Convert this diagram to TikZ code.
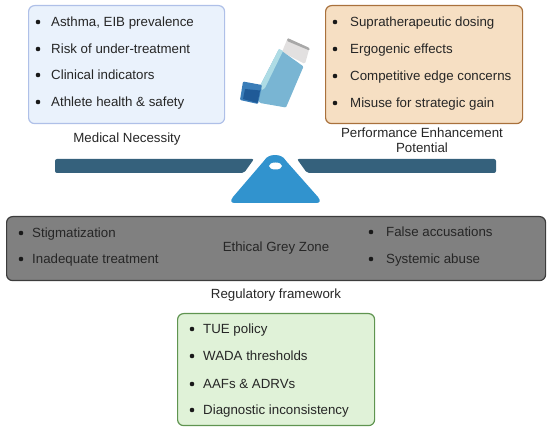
\documentclass[tikz,border=0pt]{standalone}
\usepackage{fontspec}
\setmainfont{Liberation Sans}
\definecolor{bluefill}{HTML}{EAF2FC}
\definecolor{blueline}{HTML}{AFC0E8}
\definecolor{tanfill}{HTML}{F6DFC3}
\definecolor{tanline}{HTML}{A9713C}
\definecolor{grayfill}{HTML}{808080}
\definecolor{grayline}{HTML}{3C3C3C}
\definecolor{greenfill}{HTML}{E0F2D8}
\definecolor{greenline}{HTML}{5F9450}
\definecolor{beam}{HTML}{35617C}
\definecolor{fulcrum}{HTML}{3193CE}
\definecolor{txt}{HTML}{262626}
\definecolor{inhbody}{HTML}{79B5D3}
\definecolor{inhlight}{HTML}{AEDCE5}
\definecolor{inhmouth}{HTML}{3A7DB8}
\definecolor{inhdark}{HTML}{1F5A97}
\definecolor{inhcap}{HTML}{E2E0E0}
\definecolor{inhcaptop}{HTML}{A8A8A8}
\tikzset{
  panel/.style={draw,rounded corners=6pt,line width=1.2pt,anchor=north west,inner sep=0pt},
  lab/.style={font=\fontsize{13.3}{15}\selectfont,text=txt,inner sep=0pt},
  item/.style={lab,anchor=base west},
  dot/.style={circle,fill=black!90,inner sep=0pt,minimum size=4.6pt},
}
\newcommand{\bul}[5]{% name, bullet x, text x, y, text
  \node[dot] (#1d) at (#2,#4) {};
  \node[item] (#1) at (#3,#4+4.5) {#5};
}
\begin{document}
\begin{tikzpicture}[x=1pt,y=-1pt]
\useasboundingbox (0,0) rectangle (550,430);
\node[panel,fill=bluefill,draw=blueline,minimum width=196pt,minimum height=118pt] (med) at (28,5) {};
\node[panel,fill=tanfill,draw=tanline,minimum width=197pt,minimum height=118pt] (perf) at (325,5) {};
\node[panel,fill=grayfill,draw=grayline,minimum width=539pt,minimum height=64pt] (grey) at (6,216) {};
\node[panel,fill=greenfill,draw=greenline,minimum width=197pt,minimum height=112pt] (green) at (177,313) {};
\bul{a1}{38}{51}{22}{Asthma, EIB prevalence}
\bul{a2}{38}{51}{49}{Risk of under-treatment}
\bul{a3}{38}{51}{75}{Clinical indicators}
\bul{a4}{38}{51}{102}{Athlete health \& safety}
\bul{b1}{335}{350}{22}{Supratherapeutic dosing}
\bul{b2}{335}{350}{49}{Ergogenic effects}
\bul{b3}{335}{350}{76}{Competitive edge concerns}
\bul{b4}{335}{350}{103}{Misuse for strategic gain}
\bul{c1}{21}{32}{233}{Stigmatization}
\bul{c2}{21}{32}{259}{Inadequate treatment}
\bul{d1}{371}{386}{232}{False accusations}
\bul{d2}{371}{386}{259}{Systemic abuse}
\bul{e1}{192}{203}{329}{TUE policy}
\bul{e2}{192}{203}{356}{WADA thresholds}
\bul{e3}{192}{203}{384}{AAFs \& ADRVs}
\bul{e4}{192}{203}{410}{Diagnostic inconsistency}
\node[lab] (medt) at (127,139) {Medical Necessity};
\node[lab,align=center] (perft) at (422,140.5) {Performance Enhancement\\[0pt]Potential};
\node[lab] (greyt) at (276,248) {Ethical Grey Zone};
\node[lab] (regt) at (276,295) {Regulatory framework};
% balance
\fill[beam,rounded corners=2pt] (55,159) -- (254,159) -- (244,173) -- (55,173) -- cycle;
\fill[beam,rounded corners=2pt] (297,159) -- (496,159) -- (496,173) -- (307,173) -- cycle;
\fill[fulcrum] (271,155.5) .. controls (273,155) and (277,155) .. (279,155.5)
  .. controls (283,156.5) and (285,159) .. (287,162) -- (318,197)
  .. controls (321,201) and (320,203) .. (316,203) -- (235,203)
  .. controls (231,203) and (230,201) .. (233,197) -- (263,162)
  .. controls (265,159) and (267,156.5) .. (271,155.5) -- cycle;
\fill[white] (275.5,166) ellipse (6.5pt and 3.5pt);
% inhaler
\fill[inhcap,rounded corners=1.5pt] (287.5,38.5) -- (309.5,48) -- (305,64) -- (282,52) -- cycle;
\fill[inhcaptop,rounded corners=1pt] (287.5,38) -- (309.5,48) -- (309.5,50.5) -- (287,41) -- cycle;
\fill[inhbody,rounded corners=1pt] (279,49) -- (303.5,66.5) -- (286,107.5) -- (260,103) -- (258,100) -- (260,86) -- cycle;
\fill[inhlight] (279,49) -- (283,51) -- (265,88) -- (262,90) -- (260,86) -- cycle;
\fill[inhmouth,rounded corners=1pt] (243,81.5) -- (262,85) -- (258,104) -- (240,100) -- cycle;
\fill[inhdark] (245,89) -- (260,90.5) -- (257.5,103) -- (243,99) -- cycle;
\end{tikzpicture}
\end{document}
